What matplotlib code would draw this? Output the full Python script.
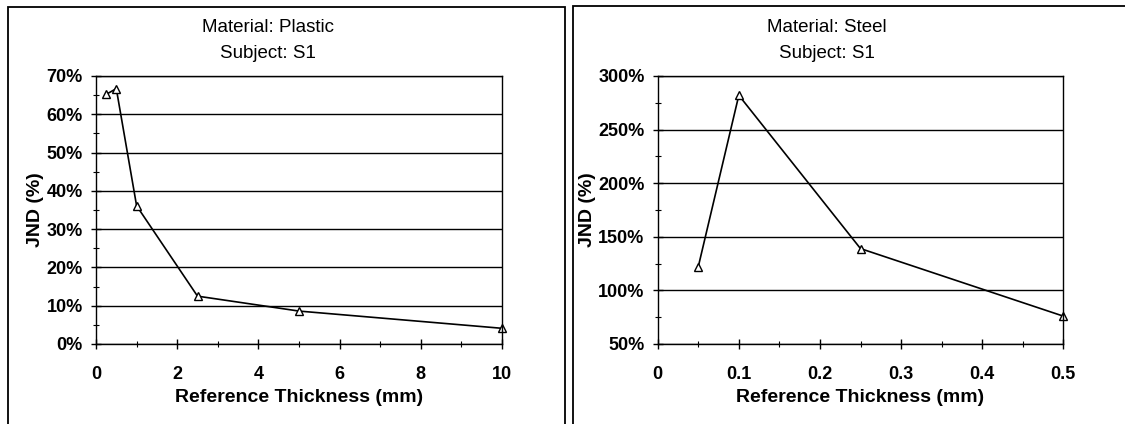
import matplotlib.pyplot as plt
from matplotlib.patches import Rectangle
from matplotlib.ticker import MultipleLocator, FuncFormatter

plt.rcParams['font.family'] = ['Liberation Sans', 'DejaVu Sans']

# data
plastic_x = [0.25, 0.5, 1, 2.5, 5, 10]
plastic_jnd = [65.2, 66.7, 36.1, 12.5, 8.6, 4.1]
steel_x = [0.05, 0.1, 0.25, 0.5]
steel_jnd = [122, 282, 139, 76]

W, H = 1125, 424
fig = plt.figure(figsize=(W / 100, H / 100), dpi=100)

def fx(px):
    return px / W

def fy(py):
    return 1 - py / H

# panel frames
fig.patches.append(Rectangle((fx(8), fy(440)), fx(565 - 8), fy(7) - fy(440),
                             transform=fig.transFigure, fill=False, lw=1.3, ec='black'))
fig.patches.append(Rectangle((fx(573), fy(440)), fx(1140 - 573), fy(6) - fy(440),
                             transform=fig.transFigure, fill=False, lw=1.3, ec='black'))

def setup(ax, xlim, ylim, xmaj, xmin, ymaj, ymin, xfmt):
    ax.set_xlim(*xlim)
    ax.set_ylim(*ylim)
    ax.xaxis.set_major_locator(MultipleLocator(xmaj))
    ax.xaxis.set_minor_locator(MultipleLocator(xmin))
    ax.yaxis.set_major_locator(MultipleLocator(ymaj))
    ax.yaxis.set_minor_locator(MultipleLocator(ymin))
    ax.xaxis.set_major_formatter(FuncFormatter(xfmt))
    ax.yaxis.set_major_formatter(FuncFormatter(lambda v, p: '%d%%' % round(v)))
    ax.tick_params(which='major', direction='inout', length=7, width=1, labelsize=13)
    ax.tick_params(which='minor', direction='inout', length=4, width=0.8)
    for lab in ax.get_xticklabels() + ax.get_yticklabels():
        lab.set_fontweight('bold')
    ax.tick_params(axis='x', pad=12)
    ax.tick_params(axis='y', pad=6)
    ax.grid(axis='y', which='major', color='black', lw=1)
    ax.set_axisbelow(True)
    for s in ax.spines.values():
        s.set_linewidth(1)

ax1 = fig.add_axes([fx(96), fy(344), fx(502 - 96), fy(76) - fy(344)])
ax1.plot(plastic_x, plastic_jnd, color='black', lw=1.2, marker='^', ms=6,
         mfc='white', mec='black', mew=1, clip_on=False)
setup(ax1, (0, 10), (0, 70), 2, 1, 10, 5, lambda v, p: '%d' % round(v))

ax2 = fig.add_axes([fx(657.7), fy(344), fx(1063.3 - 657.7), fy(76) - fy(344)])
ax2.plot(steel_x, steel_jnd, color='black', lw=1.2, marker='^', ms=6,
         mfc='white', mec='black', mew=1, clip_on=False)
setup(ax2, (0, 0.5), (50, 300), 0.1, 0.05, 50, 25,
      lambda v, p: '0' if abs(v) < 1e-9 else ('%.1f' % v))

for ax, cx, ylx, mat in [(ax1, 268, 35, 'Plastic'), (ax2, 827, 588, 'Steel')]:
    fig.text(fx(cx), fy(28), 'Material: ' + mat, ha='center', va='center', fontsize=13.5)
    fig.text(fx(cx), fy(53), 'Subject: S1', ha='center', va='center', fontsize=13.5)
    ax.set_xlabel('Reference Thickness (mm)', fontsize=14, fontweight='bold')
    ax.xaxis.set_label_coords(0.5, (fy(398) - fy(344)) / (fy(76) - fy(344)))
    ax.xaxis.label.set_va('center')
    ax.set_ylabel('JND (%)', fontsize=14, fontweight='bold')
    bx = ax.get_position().x0
    ax.yaxis.set_label_coords((fx(ylx) - bx) / ax.get_position().width, 0.5)
    ax.yaxis.label.set_va('center')

plt.savefig('out.png', dpi=100)
